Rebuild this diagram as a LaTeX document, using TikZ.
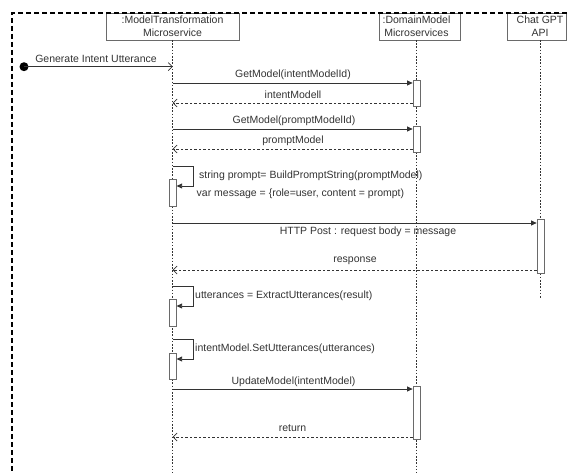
\documentclass[tikz,border=0pt]{standalone}
\usepackage{fontspec}
\setmainfont{Liberation Sans}
\usetikzlibrary{arrows.meta}
\definecolor{ink}{HTML}{333333}
\definecolor{boxline}{HTML}{6A6A6A}
\begin{document}
\begin{tikzpicture}[x=1pt,y=-1pt,
  lbl/.style={font=\fontsize{10.5}{12}\selectfont, text=ink, inner sep=0},
  head/.style={draw=boxline, fill=white, line width=0.8pt, align=center,
    font=\fontsize{10.5}{13}\selectfont, text=ink, inner sep=0, minimum height=27pt},
  life/.style={draw=ink, line width=0.7pt, dash pattern=on 1.6pt off 1.6pt},
  bar/.style={draw=boxline, fill=white, line width=0.8pt, minimum width=7pt, inner sep=0},
  msg/.style={draw=ink, line width=0.8pt, -{Triangle[length=5.5pt,width=5pt]}},
  ret/.style={draw=ink, line width=0.7pt, dash pattern=on 2.5pt off 2pt,
    -{Straight Barb[length=4pt,width=8pt,line width=0.7pt]}},
  found/.style={draw=ink, line width=0.8pt, -{Straight Barb[length=4pt,width=8pt,line width=0.7pt]}},
  frame/.style={draw=black, line width=1.8pt, dash pattern=on 5pt off 3pt}
]
\useasboundingbox (0,0) rectangle (569,473);
\clip (0,0) rectangle (569,473);

% heads
\node[head, minimum width=133pt] (mt) at (172.5,26.5) {:ModelTransformation\\Microservice};
\node[head, minimum width=81pt] (dm) at (419.5,26.5) {};
\node[lbl, align=center, font=\fontsize{10.5}{13}\selectfont] (dmt) at (416.5,26.5) {:DomainModel\\Microservices};
\node[head, minimum width=59pt] (gpt) at (536.5,26.5) {};
\node[lbl, align=center, font=\fontsize{10.5}{13}\selectfont] (gptt) at (540,26.5) {Chat GPT\\API};

% lifeline coordinates
\coordinate (mtTop) at (172.7,40);
\coordinate (mtBot) at (172.7,473);
\coordinate (dmTop) at (416.5,40);
\coordinate (dmBot) at (416.5,473);
\coordinate (gptTop) at (540.5,40);
\coordinate (gptBot) at (540.5,298);
\draw[life] (mtTop) -- (mtBot);
\draw[life] (dmTop) -- (dmBot);
\draw[life] (gptTop) -- (gptBot);

% activation bars
\node[bar, minimum height=26pt] (dmb1) at (416.5,93) {};
\node[bar, minimum height=26pt] (dmb2) at (416.5,139) {};
\node[bar, minimum height=27pt] (mtb1) at (172.7,192.5) {};
\node[bar, minimum height=54pt] (gptb) at (540.5,246) {};
\node[bar, minimum height=27pt] (mtb2) at (172.7,312.5) {};
\node[bar, minimum height=26pt] (mtb3) at (172.7,366) {};
\node[bar, minimum height=53pt] (dmb3) at (416.5,412.5) {};

% found message
\node[circle, fill=black, inner sep=0, minimum size=9pt] (start) at (24,66.7) {};
\coordinate (mtIn) at (172.7,66.7);
\draw[found] (start.center) -- (mtIn);
\node[lbl] (l0) at (96,59) {Generate Intent Utterance};

% GetModel(intentModelId)
\coordinate (m1s) at (172.7,83);
\draw[msg] (m1s) -- (m1s -| dmb1.west);
\node[lbl] (l1) at (293,75) {GetModel(intentModelId)};
\coordinate (r1e) at (172.7,103);
\draw[ret] (r1e -| dmb1.west) -- (r1e);
\node[lbl] (l2) at (293,95) {intentModell};

% GetModel(promptModelId)
\coordinate (m2s) at (172.7,129);
\draw[msg] (m2s) -- (m2s -| dmb2.west);
\node[lbl] (l3) at (294,121) {GetModel(promptModelId)};
\coordinate (r2e) at (172.7,149);
\draw[ret] (r2e -| dmb2.west) -- (r2e);
\node[lbl] (l4) at (293,141) {promptModel};

% self call 1
\coordinate (s1a) at (172.7,166);
\coordinate (s1b) at (193,186);
\draw[msg] (s1a) -| (s1b) -- (s1b -| mtb1.east);
\node[lbl, anchor=west] (l5) at (199,176) {string prompt= BuildPromptString(promptModel)};
\node[lbl, anchor=west] (l6) at (196.5,194) {var message = \{role=user, content = prompt)};

% HTTP Post
\coordinate (m3s) at (172.7,223);
\draw[msg] (m3s) -- (m3s -| gptb.west);
\node[lbl] (l7) at (368,232) {HTTP Post : request body = message};
\coordinate (r3e) at (172.7,270);
\draw[ret] (r3e -| gptb.west) -- (r3e);
\node[lbl] (l8) at (355,260.5) {response};

% self call 2
\coordinate (s2a) at (172.7,286);
\coordinate (s2b) at (193,306);
\draw[msg] (s2a) -| (s2b) -- (s2b -| mtb2.east);
\node[lbl, anchor=west] (l9) at (195,295.5) {utterances = ExtractUtterances(result)};

% self call 3
\coordinate (s3a) at (172.7,339);
\coordinate (s3b) at (193,359);
\draw[msg] (s3a) -| (s3b) -- (s3b -| mtb3.east);
\node[lbl, anchor=west] (l10) at (195,349) {intentModel.SetUtterances(utterances)};

% UpdateModel
\coordinate (m4s) at (172.7,389);
\draw[msg] (m4s) -- (m4s -| dmb3.west);
\node[lbl] (l11) at (293.5,382) {UpdateModel(intentModel)};
\coordinate (r4e) at (172.7,437);
\draw[ret] (r4e -| dmb3.west) -- (r4e);
\node[lbl] (l12) at (292.5,428.5) {return};

% frame
\coordinate (fTL) at (12,13);
\coordinate (fTR) at (575,13);
\coordinate (fBL) at (12,480);
\draw[frame] (fTR) -- (fTL) -- (fBL);
\end{tikzpicture}
\end{document}
